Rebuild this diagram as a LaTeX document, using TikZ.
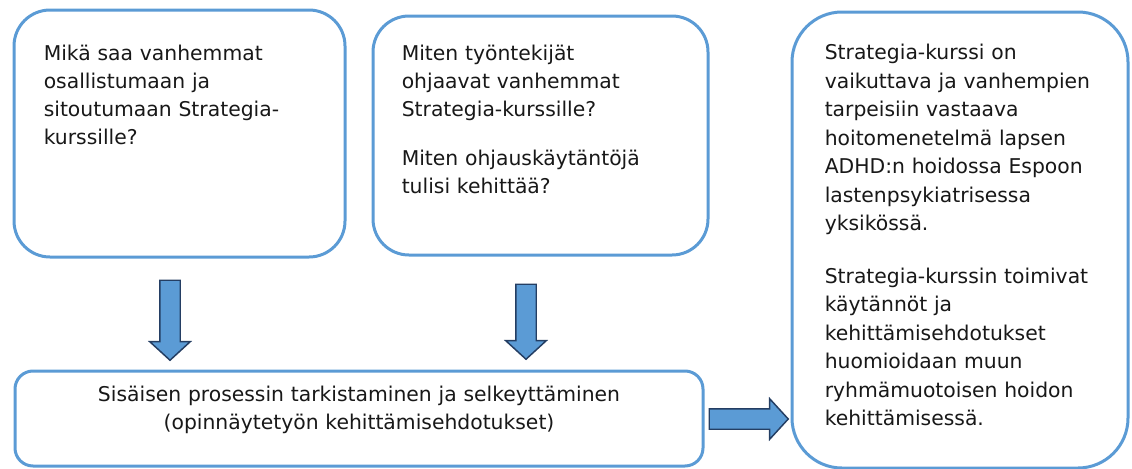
\documentclass[tikz,border=0pt]{standalone}
\usepackage{fontspec}
\setmainfont{DejaVu Sans}
\usetikzlibrary{shapes.arrows,calc}

\definecolor{boxblue}{RGB}{91,155,213}
\definecolor{arrowline}{RGB}{36,62,99}
\definecolor{textgrey}{RGB}{24,24,24}

\begin{document}
\begin{tikzpicture}[x=0.75pt,y=-0.75pt,
	roundbox/.style={draw=boxblue, line width=2.25pt, fill=white},
	boxtext/.style={anchor=base west, inner sep=0pt, text width=240pt, align=left, text=textgrey, font=\fontsize{15.25pt}{21pt}\selectfont},
	proctext/.style={anchor=base, inner sep=0pt, text width=500pt, align=center, text=textgrey, font=\fontsize{15.25pt}{21pt}\selectfont},
	blockarrow/.style={single arrow, draw=arrowline, line width=1.1pt, fill=boxblue, inner xsep=0pt, inner ysep=7.125pt, minimum width=29.25pt, single arrow head extend=7.5pt, single arrow tip angle=95}]
	\useasboundingbox (0,0) rectangle (1132,468);
	
	%Shape: Rounded Rect [question 1]
	\node[roundbox, rounded corners=27pt, minimum width=248.25pt, minimum height=185.25pt] (q1) at (179.5,133.5) {};
	%Shape: Rounded Rect [question 2]
	\node[roundbox, rounded corners=27pt, minimum width=251.25pt, minimum height=179.25pt] (q2) at (540.5,135.5) {};
	%Shape: Rounded Rect [result]
	\node[roundbox, rounded corners=37.5pt, minimum width=252pt, minimum height=342pt] (res) at (960,240) {};
	%Shape: Rounded Rect [process]
	\node[roundbox, rounded corners=13.5pt, minimum width=516pt, minimum height=71.25pt] (proc) at (359,418.5) {};
	
	%Shape: Block Arrows
	\node[blockarrow, rotate=-90, anchor=tail, minimum height=60pt] (a1) at ($(q1.south)+(-9.5,21)$) {};
	\node[blockarrow, rotate=-90, anchor=tail, minimum height=56.25pt] (a2) at ($(q2.south)+(-14.5,27)$) {};
	\node[blockarrow, anchor=tail, minimum height=59.25pt] (a3) at ($(proc.east)+(4,0.5)$) {};
	
	% Text Node
	\node[boxtext] (q1t) at ($(q1.north west)+(31,52)$) {Mikä saa vanhemmat\\osallistumaan ja\\sitoutumaan Strategia-\\kurssille?};
	% Text Node
	\node[boxtext] (q2t) at ($(q2.north west)+(30,46)$) {Miten työntekijät\\ohjaavat vanhemmat\\Strategia-kurssille?\\[15.75pt]Miten ohjauskäytäntöjä\\tulisi kehittää?};
	% Text Node
	\node[boxtext, font=\fontsize{15.25pt}{21.375pt}\selectfont] (rest) at ($(res.north west)+(34,49)$) {Strategia-kurssi on\\vaikuttava ja vanhempien\\tarpeisiin vastaava\\hoitomenetelmä lapsen\\ADHD:n hoidossa Espoon\\lastenpsykiatrisessa\\yksikössä.\\[18pt]Strategia-kurssin toimivat\\käytännöt ja\\kehittämisehdotukset\\huomioidaan muun\\ryhmämuotoisen hoidon\\kehittämisessä.};
	% Text Node
	\node[proctext] (proct) at ($(proc.north)+(0,32)$) {Sisäisen prosessin tarkistaminen ja selkeyttäminen\\(opinnäytetyön kehittämisehdotukset)};
	
\end{tikzpicture}
\end{document}
